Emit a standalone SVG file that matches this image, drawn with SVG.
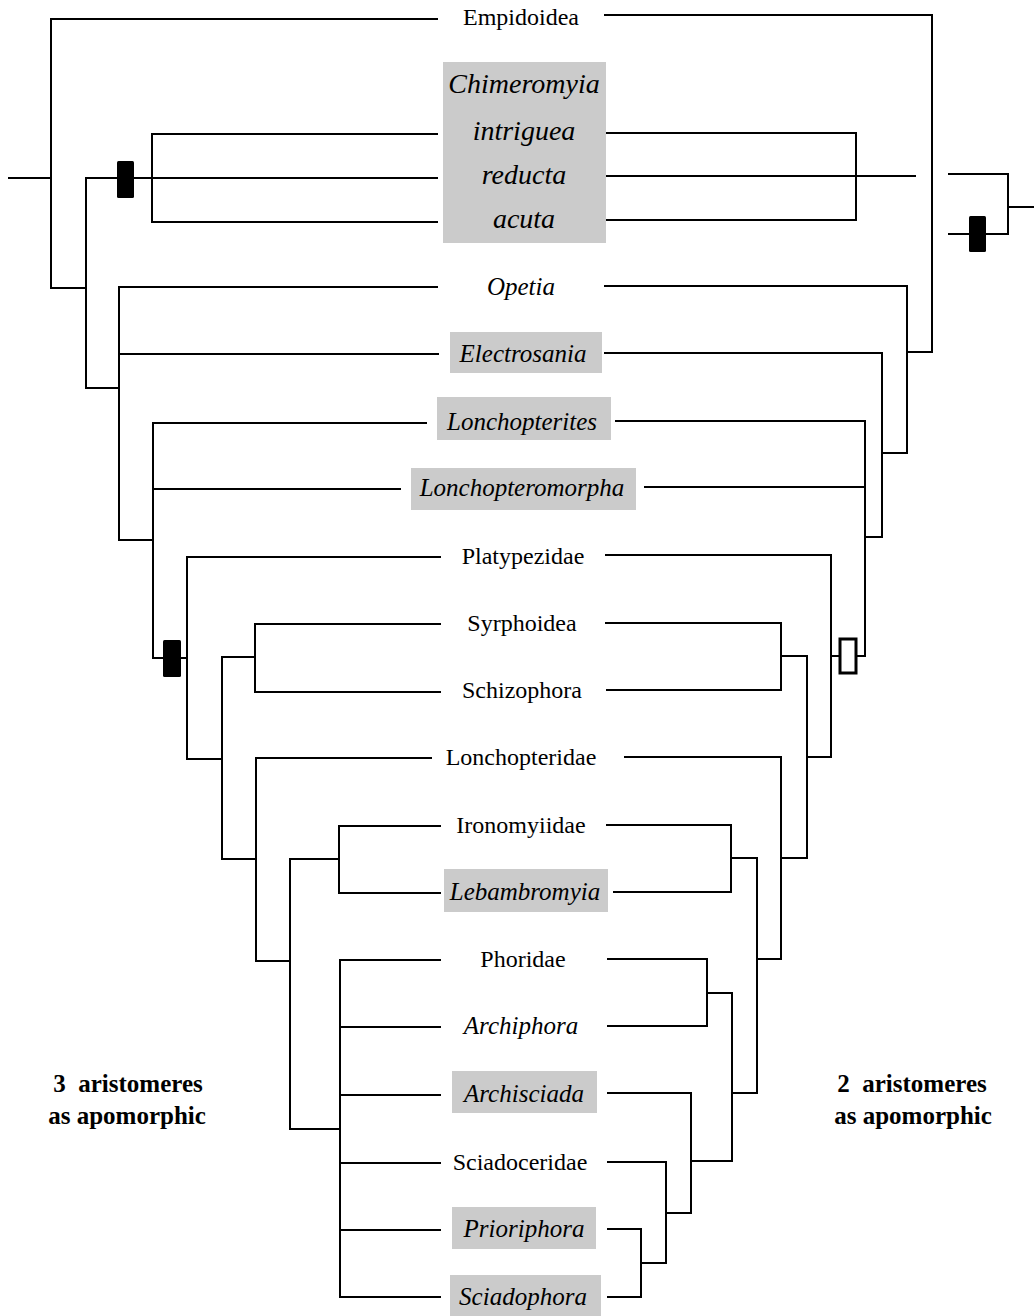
<svg xmlns="http://www.w3.org/2000/svg" width="1034" height="1316" viewBox="0 0 1034 1316">
<style>
.ln{fill:none;stroke:#000;stroke-width:2;stroke-linecap:square;stroke-linejoin:miter}
.lbl{font-family:"Liberation Serif","Times New Roman",serif;font-size:24px;fill:#000;text-anchor:middle}
.it{font-style:italic;font-size:25px}
.big{font-size:28px}
.box{fill:#cbcbcb}
.note{font-family:"Liberation Serif","Times New Roman",serif;font-size:25px;font-weight:bold;fill:#000;text-anchor:middle;white-space:pre}
.bar{fill:#000}
.obar{fill:#fff;stroke:#000;stroke-width:3}
</style>
<rect width="1034" height="1316" fill="#fff"/>
<g id="connectors">
<path class="ln" d="M9 178H51 M51 19V288 M51 19H437 M51 288H86 M86 178V388 M86 178H152 M152 134V222 M152 134H437 M152 178H437 M152 222H437 M86 388H119 M119 287V540 M119 287H437 M119 354H438 M119 540H153 M153 423V658 M153 423H426 M153 489H400 M153 658H187 M187 557V759 M187 557H440 M187 759H222 M222 657V859 M222 657H255 M255 624V692 M255 624H440 M255 692H440 M222 859H256 M256 758V961 M256 758H431 M256 961H290 M290 859V1129 M290 859H339 M339 826V893 M339 826H440 M339 893H440 M290 1129H340 M340 960V1297 M340 960H440 M340 1027H440 M340 1095H440 M340 1163H440 M340 1230H440 M340 1297H440"/>
<path class="ln" d="M605 15H932V352H907 M605 133H856V220H605 M605 176H915 M949 174H1008V234H949 M1008 207H1034 M605 286H907V453H882 M605 353H882V537H865 M616 421H865V656H832 M645 487H865 M606 555H831V757H807 M606 623H781V690H607 M781 656H807V858H781 M625 757H781V959H757 M607 825H731V892H614 M731 858H757V1093H732 M608 959H707V1026H608 M707 993H732V1161H691 M608 1093H691V1213H666 M608 1162H666V1263H641 M608 1229H641V1297H608"/>
</g>
<g id="markers">
<rect class="bar" x="117" y="161" width="17" height="37" rx="1.5"/>
<rect class="bar" x="163" y="640" width="18" height="37" rx="1.5"/>
<rect class="bar" x="969" y="216" width="17" height="36" rx="1.5"/>
<rect class="obar" x="840" y="639" width="16" height="34"/>
</g>
<g id="n-empidoidea"><text class="lbl" x="521" y="25">Empidoidea</text></g>
<g id="n-chimeromyia">
<rect class="box" x="443" y="62" width="163" height="181"/>
<text class="lbl it big" x="524" y="93">Chimeromyia</text>
<text class="lbl it big" x="524" y="140">intriguea</text>
<text class="lbl it big" x="524" y="184">reducta</text>
<text class="lbl it big" x="524" y="228">acuta</text>
</g>
<g id="n-opetia"><text class="lbl it" x="521" y="295">Opetia</text></g>
<g id="n-electrosania"><rect class="box" x="450" y="332" width="152" height="41"/><text class="lbl it" x="523" y="362">Electrosania</text></g>
<g id="n-lonchopterites"><rect class="box" x="437" y="397" width="174" height="43"/><text class="lbl it" x="522" y="430">Lonchopterites</text></g>
<g id="n-lonchopteromorpha"><rect class="box" x="411" y="468" width="225" height="42"/><text class="lbl it" x="522" y="496">Lonchopteromorpha</text></g>
<g id="n-platypezidae"><text class="lbl" x="523" y="564">Platypezidae</text></g>
<g id="n-syrphoidea"><text class="lbl" x="522" y="631">Syrphoidea</text></g>
<g id="n-schizophora"><text class="lbl" x="522" y="698">Schizophora</text></g>
<g id="n-lonchopteridae"><text class="lbl" x="521" y="765">Lonchopteridae</text></g>
<g id="n-ironomyiidae"><text class="lbl" x="521" y="833">Ironomyiidae</text></g>
<g id="n-lebambromyia"><rect class="box" x="444" y="869" width="164" height="43"/><text class="lbl it" x="525" y="900">Lebambromyia</text></g>
<g id="n-phoridae"><text class="lbl" x="523" y="967">Phoridae</text></g>
<g id="n-archiphora"><text class="lbl it" x="521" y="1034">Archiphora</text></g>
<g id="n-archisciada"><rect class="box" x="452" y="1071" width="145" height="42"/><text class="lbl it" x="524" y="1102">Archisciada</text></g>
<g id="n-sciadoceridae"><text class="lbl" x="520" y="1170">Sciadoceridae</text></g>
<g id="n-prioriphora"><rect class="box" x="452" y="1207" width="144" height="42"/><text class="lbl it" x="524" y="1237">Prioriphora</text></g>
<g id="n-sciadophora"><rect class="box" x="450" y="1275" width="151" height="41"/><text class="lbl it" x="523" y="1305">Sciadophora</text></g>
<g id="annotations">
<text class="note" x="128" y="1092">3  aristomeres</text>
<text class="note" x="127" y="1124">as apomorphic</text>
<text class="note" x="912" y="1092">2  aristomeres</text>
<text class="note" x="913" y="1124">as apomorphic</text>
</g>
</svg>
